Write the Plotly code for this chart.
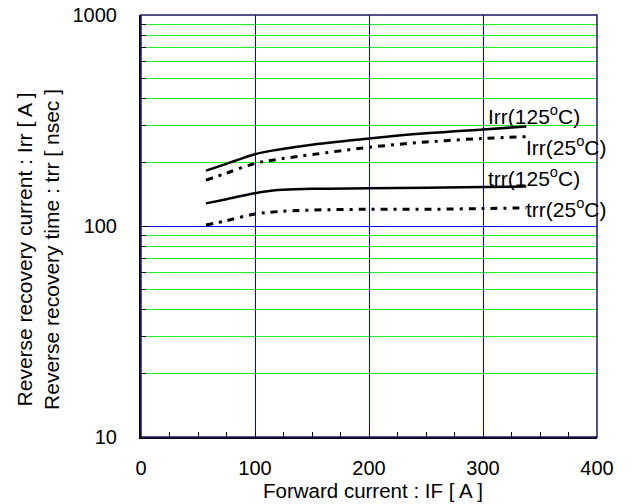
import math
import plotly.graph_objects as go

forward_current = [57, 75, 100, 120, 150, 200, 250, 300, 338]
irr_125 = [183, 197, 219, 230, 243, 260, 275, 287, 296]
irr_25 = [165, 178, 198, 207, 218, 236, 250, 260, 265]
trr_125 = [128, 134, 143, 148, 150, 151, 152, 153, 154]
trr_25 = [101, 106, 114, 117, 119, 120, 120, 121, 122]

label_texts = ["Irr(125<sup>o</sup>C)", "Irr(25<sup>o</sup>C)", "trr(125<sup>o</sup>C)", "trr(25<sup>o</sup>C)"]
label_x = [305, 339, 305, 339]
label_y = [336, 240, 171, 121.5]

FONT = "Liberation Sans, Arial, sans-serif"

fig = go.Figure()
fig.add_trace(go.Scatter(x=forward_current, y=irr_125, mode="lines",
                         line=dict(color="black", width=2.5), line_shape="spline"))
fig.add_trace(go.Scatter(x=forward_current, y=irr_25, mode="lines",
                         line=dict(color="black", width=3, dash="7px,6px,3px,6px"), line_shape="spline"))
fig.add_trace(go.Scatter(x=forward_current, y=trr_125, mode="lines",
                         line=dict(color="black", width=2.5), line_shape="spline"))
fig.add_trace(go.Scatter(x=forward_current, y=trr_25, mode="lines",
                         line=dict(color="black", width=3, dash="7px,6px,3px,6px"), line_shape="spline"))

for t, lx, ly in zip(label_texts, label_x, label_y):
    fig.add_annotation(x=lx, y=math.log10(ly), yref="y", xref="x", text=t, showarrow=False,
                       xanchor="left", yanchor="middle", xshift=-3, yshift=0,
                       font=dict(family=FONT, size=21, color="black"))

fig.add_annotation(x=-0.226, y=0.4455, xref="paper", yref="paper", textangle=-90,
                   xanchor="center", yanchor="middle",
                   text="Reverse recovery current : Irr [ A ]<br>Reverse recovery time : trr [ nsec ]",
                   showarrow=False, font=dict(family=FONT, size=21, color="black"))

fig.add_annotation(x=0.509, y=-0.1256, xref="paper", yref="paper",
                   xanchor="center", yanchor="middle",
                   text="Forward current : IF [ A ]",
                   showarrow=False, font=dict(family=FONT, size=20.5, color="black"))

fig.add_shape(type="rect", xref="paper", yref="paper", x0=0, y0=0, x1=1, y1=1,
              line=dict(color="#1a1a60", width=1.5), layer="above")

fig.update_layout(
    width=633, height=504,
    margin=dict(l=141, r=36, t=15, b=67),
    paper_bgcolor="white", plot_bgcolor="white",
    showlegend=False,
    font=dict(family=FONT, size=20, color="black"),
    xaxis=dict(range=[0, 400], dtick=100, tick0=0, showgrid=True, gridcolor="#0000ff", gridwidth=1,
               zeroline=False, showline=True, linecolor="black", linewidth=2,
               ticks="inside", ticklen=6, tickcolor="black", automargin=False,
               ticklabelstandoff=12,
               minor=dict(dtick=25, ticks="inside", ticklen=5, tickcolor="black", showgrid=False),
               tickfont=dict(size=20)),
    yaxis=dict(type="log", range=[1, 3], dtick=1, showgrid=True, gridcolor="#0000ff", gridwidth=1,
               zeroline=False, showline=True, linecolor="black", linewidth=2,
               ticks="inside", ticklen=6, tickcolor="black", automargin=False,
               ticklabelstandoff=18,
               minor=dict(dtick="D1", ticks="inside", ticklen=5, tickcolor="black",
                          showgrid=True, gridcolor="#22ee22", gridwidth=1),
               tickfont=dict(size=20)),
)

fig.write_html("out.html", config={"displayModeBar": False},
               post_script="document.body.style.margin='0';document.body.style.overflow='hidden';")
